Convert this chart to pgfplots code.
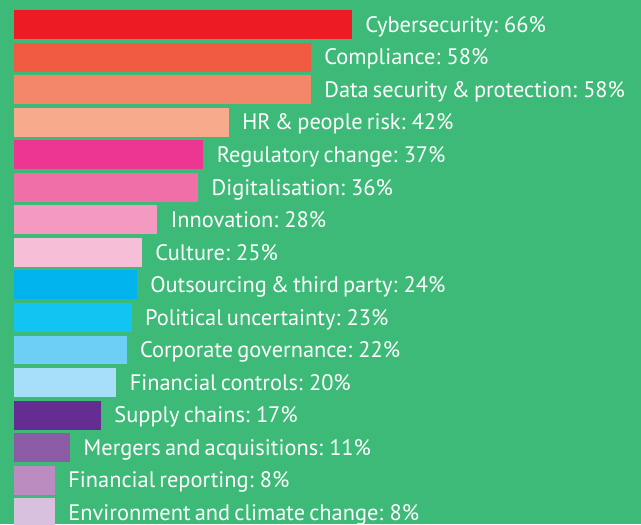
\documentclass[border=0pt]{standalone}
\usepackage{pgfplots}
\pgfplotsset{compat=1.18}
\usepackage{fontspec}
\setmainfont{PT Sans}[WordSpace=0.7]

\definecolor{bg}{HTML}{3DBA77}
\definecolor{c1}{HTML}{ED1C24}
\definecolor{c2}{HTML}{F05A40}
\definecolor{c3}{HTML}{F4876A}
\definecolor{c4}{HTML}{F8AA8C}
\definecolor{c5}{HTML}{EC3691}
\definecolor{c6}{HTML}{F06FA8}
\definecolor{c7}{HTML}{F49AC1}
\definecolor{c8}{HTML}{F7BFD7}
\definecolor{c9}{HTML}{00B3ED}
\definecolor{c10}{HTML}{12C4F2}
\definecolor{c11}{HTML}{6DCFF6}
\definecolor{c12}{HTML}{A8DFF8}
\definecolor{c13}{HTML}{652D91}
\definecolor{c14}{HTML}{8B5BA6}
\definecolor{c15}{HTML}{BA8CC0}
\definecolor{c16}{HTML}{D8C1DE}

\begin{document}
\begin{tikzpicture}
\begin{axis}[
    scale only axis,
    width=320.5pt, height=262pt,
    xbar, bar width=0.89, bar shift=0pt,
    xmin=-2.734, xmax=122.46,
    ymin=-0.753, ymax=15.346,
    y dir=reverse,
    axis line style={draw=none},
    ticks=none,
    axis background/.style={fill=bg},
    every axis plot/.append style={draw=none},
    point meta=explicit symbolic,
    nodes near coords,
    every node near coord/.append style={anchor=west, xshift=6.5pt, inner sep=0pt,
        text height=7.8pt, text depth=0pt, font=\fontsize{11.2pt}{13pt}\selectfont, text=white},
]
\addplot[fill=c1]  coordinates {(66,0)  [Cybersecurity: 66\%]};
\addplot[fill=c2]  coordinates {(58,1)  [Compliance: 58\%]};
\addplot[fill=c3]  coordinates {(58,2)  [Data security \& protection: 58\%]};
\addplot[fill=c4]  coordinates {(42,3)  [HR \& people risk: 42\%]};
\addplot[fill=c5]  coordinates {(37,4)  [Regulatory change: 37\%]};
\addplot[fill=c6]  coordinates {(36,5)  [Digitalisation: 36\%]};
\addplot[fill=c7]  coordinates {(28,6)  [Innovation: 28\%]};
\addplot[fill=c8]  coordinates {(25,7)  [Culture: 25\%]};
\addplot[fill=c9]  coordinates {(24,8)  [Outsourcing \& third party: 24\%]};
\addplot[fill=c10] coordinates {(23,9)  [Political uncertainty: 23\%]};
\addplot[fill=c11] coordinates {(22,10) [Corporate governance: 22\%]};
\addplot[fill=c12] coordinates {(20,11) [Financial controls: 20\%]};
\addplot[fill=c13] coordinates {(17,12) [Supply chains: 17\%]};
\addplot[fill=c14] coordinates {(11,13) [Mergers and acquisitions: 11\%]};
\addplot[fill=c15] coordinates {(8,14)  [Financial reporting: 8\%]};
\addplot[fill=c16] coordinates {(8,15)  [Environment and climate change: 8\%]};
\end{axis}
\end{tikzpicture}
\end{document}
